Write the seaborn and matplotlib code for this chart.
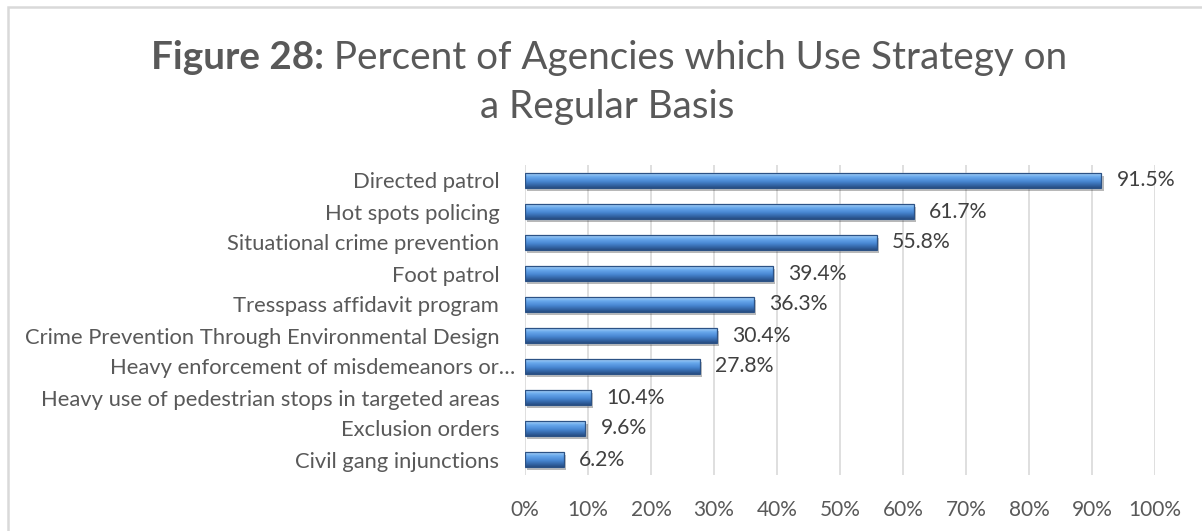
import numpy as np
import pandas as pd
import matplotlib
matplotlib.use("Agg")
import matplotlib.pyplot as plt
import matplotlib.patches as mpatches
import matplotlib.patheffects as pe
import matplotlib.transforms as mtransforms
import seaborn as sns

strategies = [
    "Directed patrol",
    "Hot spots policing",
    "Situational crime prevention",
    "Foot patrol",
    "Tresspass affidavit program",
    "Crime Prevention Through Environmental Design",
    "Heavy enforcement of misdemeanors or…",
    "Heavy use of pedestrian stops in targeted areas",
    "Exclusion orders",
    "Civil gang injunctions",
]
percent_regular = [91.5, 61.7, 55.8, 39.4, 36.3, 30.4, 27.8, 10.4, 9.6, 6.2]
x_ticks = [0, 10, 20, 30, 40, 50, 60, 70, 80, 90, 100]
x_tick_labels = [f"{t}%" for t in x_ticks]

FONT = "Lato"
TEXT_GREY = "#595959"

sns.set_theme(style="white")
plt.rcParams["font.family"] = [FONT, "DejaVu Sans"]

df = pd.DataFrame({"strategy": strategies, "pct": percent_regular})

fig = plt.figure(figsize=(12.02, 5.31), dpi=100)
ax = fig.add_axes([525 / 1202, 1 - 475 / 531, 630 / 1202, 310 / 531])

sns.barplot(data=df, x="pct", y="strategy", orient="h", color="#4A86CE",
            width=0.47, saturation=1, ax=ax, zorder=2)

# bevelled look: vertical gradient clipped to every bar, with a soft shadow
grad = np.linspace(0, 1, 64).reshape(-1, 1)
cmap = matplotlib.colors.LinearSegmentedColormap.from_list(
    "bevel",
    [(0.0, "#274C80"), (0.15, "#30609F"), (0.45, "#4988D4"), (0.75, "#68A8EC"),
     (0.9, "#8EC2F4"), (1.0, "#BCD9F6")])
for p in list(ax.patches):
    x0, y0 = p.get_x(), p.get_y()
    w, h = p.get_width(), p.get_height()
    p.set_path_effects([pe.SimplePatchShadow(offset=(1.5, -2.2), shadow_rgbFace="#000000",
                                             alpha=0.28, rho=0.3),
                        pe.Normal()])
    im = ax.imshow(grad, cmap=cmap, aspect="auto", origin="upper",
                   extent=(x0, x0 + w, y0, y0 + h), zorder=3,
                   interpolation="bicubic")
    im.set_clip_path(p)
    ax.add_patch(mpatches.Rectangle((x0, y0), w, h, fill=False, edgecolor="#2C5285",
                                    linewidth=0.9, zorder=4))

ax.set_xlim(0, 100)
ax.set_ylim(len(strategies) - 0.5, -0.5)
ax.set_xticks(x_ticks)
ax.set_xticklabels(x_tick_labels)
ax.set_xlabel("")
ax.set_ylabel("")
ax.grid(axis="x", color="#D9D9D9", linewidth=1.2, zorder=0)
ax.set_axisbelow(True)
for s in ax.spines.values():
    s.set_visible(False)
ax.tick_params(axis="x", length=0, pad=18, labelsize=15, labelcolor=TEXT_GREY)
ax.tick_params(axis="y", length=0, pad=18.5, labelsize=15.8, labelcolor=TEXT_GREY)

# the truncated category name runs past the others' right edge
for lbl in ax.get_yticklabels():
    if lbl.get_text().endswith("…"):
        lbl.set_transform(lbl.get_transform() +
                          mtransforms.ScaledTranslation(16 / 100, 0, fig.dpi_scale_trans))

for i, v in enumerate(percent_regular):
    ax.annotate(f"{v}%", xy=(v, i), xytext=(11, 0), textcoords="offset points",
                ha="left", va="center", fontsize=15.2, color="#404040", zorder=5)

# title: bold figure number followed by regular text, centred as one line
fig.canvas.draw()
r = fig.canvas.get_renderer()
TITLE_SIZE = 27.8
bold = fig.text(0, 0, "Figure 28:", fontsize=TITLE_SIZE, fontweight="bold",
                color=TEXT_GREY, va="baseline")
rest = fig.text(0, 0, " Percent of Agencies which Use Strategy on",
                fontsize=TITLE_SIZE, color=TEXT_GREY, va="baseline")
wb = bold.get_window_extent(r).width
wr = rest.get_window_extent(r).width
start = (1219 - wb - wr) / 2
bold.set_position((start / 1202, 1 - 69 / 531))
rest.set_position(((start + wb) / 1202, 1 - 69 / 531))
fig.text(607 / 1202, 1 - 118 / 531, "a Regular Basis", fontsize=TITLE_SIZE,
         color=TEXT_GREY, ha="center", va="baseline")

# light frame round the chart area
fig.patches.append(mpatches.Rectangle((8 / 1202, -0.1), 1.2, 1 - 7 / 531 + 0.1,
                                      transform=fig.transFigure, fill=False,
                                      edgecolor="#D9D9D9", linewidth=1.8))

fig.savefig("out.png", dpi=100)
